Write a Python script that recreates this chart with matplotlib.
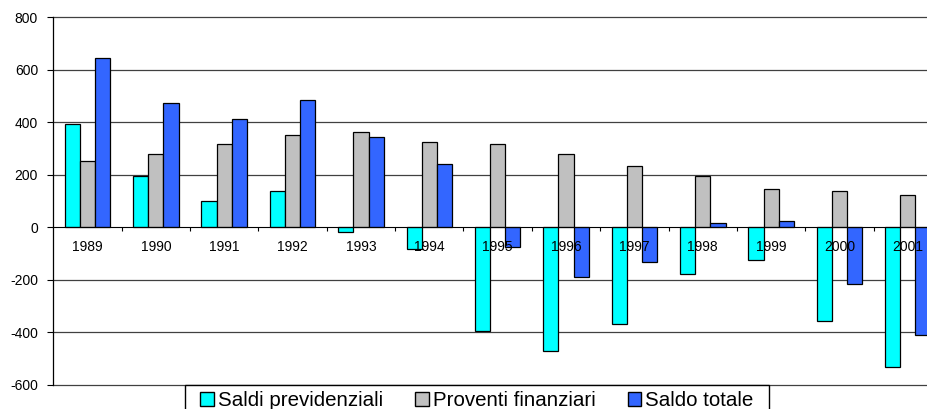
import matplotlib
matplotlib.use("Agg")
import matplotlib.pyplot as plt
from matplotlib.patches import Rectangle
import numpy as np

plt.rcParams["font.family"] = ["Liberation Sans", "DejaVu Sans"]
plt.rcParams["axes.unicode_minus"] = False

years = ["1989", "1990", "1991", "1992", "1993", "1994", "1995",
         "1996", "1997", "1998", "1999", "2000", "2001"]
saldi_previdenziali = [392, 194, 101, 137, -18, -84, -394, -469, -366, -177, -124, -355, -532]
proventi_finanziari = [251, 279, 316, 350, 365, 327, 319, 279, 233, 194, 147, 139, 125]
saldo_totale = [645, 473, 414, 485, 346, 240, -75, -190, -133, 15, 24, -217, -411]

series = [
    ("Saldi previdenziali", saldi_previdenziali, "#00FFFF"),
    ("Proventi finanziari", proventi_finanziari, "#C0C0C0"),
    ("Saldo totale", saldo_totale, "#3366FF"),
]

W, H = 927, 409
fig = plt.figure(figsize=(W / 100, H / 100), dpi=100)
ax = fig.add_axes([0.0575, 0.0587, 0.9587, 0.899])

x = np.arange(len(years))
w = 0.222
for k, (name, vals, col) in enumerate(series):
    ax.bar(x + (k - 1) * w, vals, width=w, color=col, edgecolor="black",
           linewidth=0.9, label=name, zorder=3)

ax.set_xlim(-0.5, len(years) - 0.5)
ax.set_ylim(-600, 800)
ax.set_yticks(np.arange(-600, 801, 200))
ax.tick_params(axis="y", labelsize=10, length=4, width=0.8, pad=7)
for yv in np.arange(-600, 801, 200):
    if yv != 0:
        ax.axhline(yv, color="#404040", linewidth=0.9, zorder=1, clip_on=False)

ax.spines["top"].set_visible(False)
ax.spines["right"].set_visible(False)
ax.spines["bottom"].set_position(("data", 0))
ax.spines["bottom"].set_zorder(4)
ax.spines["left"].set_linewidth(0.9)
ax.set_xticks(np.arange(0.5, len(years) - 0.5, 1.0))
ax.set_xticklabels([])
ax.tick_params(axis="x", length=3, width=0.8, direction="out")

for i, yr in enumerate(years):
    ax.text(i, -73, yr, ha="center", va="center", fontsize=10, zorder=5)

# legend box sits on the bottom line and runs off the figure
fig.patches.append(Rectangle((184.6 / W, -0.1), (769 - 184.6) / W, 0.1 + 1 - 385 / H,
                             transform=fig.transFigure, facecolor="white",
                             edgecolor="black", linewidth=1.0, zorder=10))
leg = fig.legend(loc="upper left", bbox_to_anchor=(192 / W, 1 - 383 / H), ncol=3,
                 fontsize=14.8, frameon=False,
                 handlelength=0.66, handleheight=0.66, handletextpad=0.2,
                 columnspacing=1.56, borderpad=0.4, borderaxespad=0)
leg.set_zorder(11)
for h in leg.legend_handles:
    h.set_linewidth(1.0)

fig.savefig("out.png", dpi=100)
